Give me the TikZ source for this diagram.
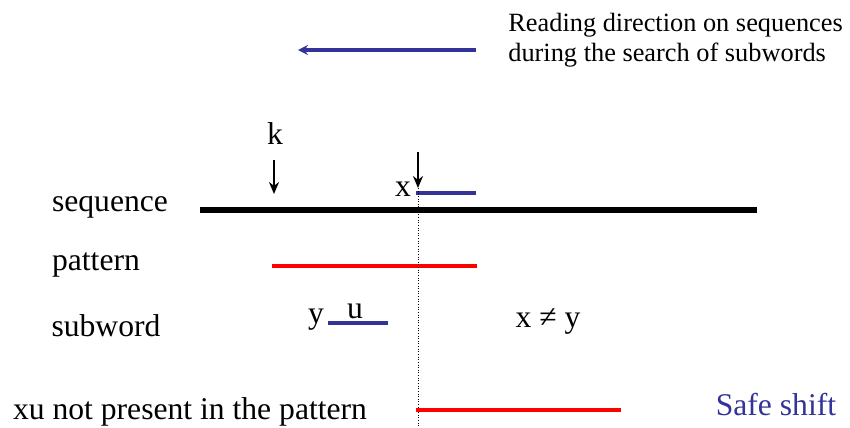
\documentclass[tikz,border=0pt]{standalone}
\usepackage{fontspec}
\setmainfont{Liberation Serif}
\usetikzlibrary{arrows.meta,positioning}
\definecolor{shiftblue}{RGB}{51,51,153}
\definecolor{patred}{RGB}{255,0,0}

\begin{document}
\begin{tikzpicture}[
        x=0.02cm, y=-0.02cm,
        txt/.style={font=\fontsize{18}{20}\selectfont, inner sep=0pt},
        small/.style={font=\fontsize{15}{17}\selectfont, inner sep=0pt, align=left},
        seqline/.style={line width=3.4pt, black},
        patline/.style={line width=2.8pt, patred},
        subline/.style={line width=2.6pt, shiftblue},
        mark arrow/.style={line width=1.2pt, -{Stealth[length=2.4mm, width=2mm]}},
    ]
        \useasboundingbox (0,0) rectangle (850,427);

        % Reading direction
        \coordinate (dirR) at (476,50);
        \coordinate (dirL) at (298,50);
        \draw[line width=2.4pt, shiftblue, -{Stealth[length=2mm, width=2mm]}] (dirR) -- (dirL);
        \node[small, anchor=west] (dirtext) at (508,40) {Reading direction on sequences\\during the search of subwords};

        % Labels on the left
        \node[txt] (seqlabel) at (110,207) {sequence};
        \node[txt] (patlabel) at (96,265) {pattern};
        \node[txt] (sublabel) at (106,326) {subword};
        \node[txt] (xulabel) at (190,412) {xu not present in the pattern};

        % Sequence
        \coordinate (seqA) at (200,210);
        \coordinate (seqB) at (757,210);
        \draw[seqline] (seqA) -- (seqB);

        % Positions k and x
        \node[txt] (k) at (275,134) {k};
        \coordinate (kA) at (274,160);
        \coordinate (kB) at (274,194);
        \draw[mark arrow] (kA) -- (kB);
        \coordinate (xA) at (418,152);
        \coordinate (xB) at (418,188);
        \draw[mark arrow] (xA) -- (xB);
        \node[txt] (x) at (403,189) {x};
        \coordinate (xsA) at (416,193);
        \coordinate (xsB) at (476,193);
        \draw[subline] (xsA) -- (xsB);

        % Pattern
        \coordinate (patA) at (272,266);
        \coordinate (patB) at (477,266);
        \draw[patline] (patA) -- (patB);

        % Subword
        \node[txt] (y) at (316,320) {y};
        \node[txt] (u) at (355,311) {u};
        \coordinate (subA) at (328,323);
        \coordinate (subB) at (388,323);
        \draw[subline] (subA) -- (subB);
        \node[txt] (neq) at (548,321) {x ≠ y};

        % Alignment line
        \coordinate (dotA) at (418,188);
        \coordinate (dotB) at (418,427);
        \draw[densely dotted, line width=0.5pt] (dotA) -- (dotB);

        % Shifted pattern
        \coordinate (shA) at (416,410);
        \coordinate (shB) at (621,410);
        \draw[patline] (shA) -- (shB);
        \node[txt, text=shiftblue] (safe) at (776,405) {Safe shift};
    \end{tikzpicture}
\end{document}
